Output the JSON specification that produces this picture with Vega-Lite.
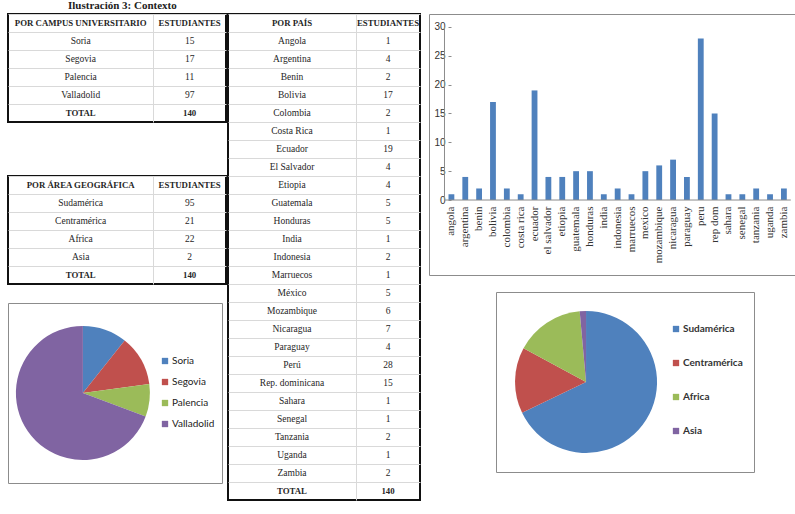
{
  "$schema": "https://vega.github.io/schema/vega-lite/v6.json",
  "background": "white",
  "padding": {"left": 7, "top": 0, "right": 0, "bottom": 0},
  "title": {"text": "Ilustración 3: Contexto", "anchor": "start", "dx": 61, "font": "Liberation Serif", "fontSize": 11, "fontWeight": "bold", "color": "#222", "offset": 2},
  "datasets": {
    "campus": [
      {"fila": "cabecera", "nombre": "POR CAMPUS UNIVERSITARIO", "estudiantes": "ESTUDIANTES"},
      {"fila": "dato", "nombre": "Soria", "estudiantes": 15},
      {"fila": "dato", "nombre": "Segovia", "estudiantes": 17},
      {"fila": "dato", "nombre": "Palencia", "estudiantes": 11},
      {"fila": "dato", "nombre": "Valladolid", "estudiantes": 97},
      {"fila": "total", "nombre": "TOTAL", "estudiantes": 140}
    ],
    "area": [
      {"fila": "cabecera", "nombre": "POR ÁREA GEOGRÁFICA", "estudiantes": "ESTUDIANTES"},
      {"fila": "dato", "nombre": "Sudamérica", "estudiantes": 95},
      {"fila": "dato", "nombre": "Centramérica", "estudiantes": 21},
      {"fila": "dato", "nombre": "Africa", "estudiantes": 22},
      {"fila": "dato", "nombre": "Asia", "estudiantes": 2},
      {"fila": "total", "nombre": "TOTAL", "estudiantes": 140}
    ],
    "pais": [
      {"fila": "cabecera", "nombre": "POR PAÍS", "estudiantes": "ESTUDIANTES"},
      {"fila": "dato", "nombre": "Angola", "etiqueta": "angola", "estudiantes": 1},
      {"fila": "dato", "nombre": "Argentina", "etiqueta": "argentina", "estudiantes": 4},
      {"fila": "dato", "nombre": "Benin", "etiqueta": "benin", "estudiantes": 2},
      {"fila": "dato", "nombre": "Bolivia", "etiqueta": "bolivia", "estudiantes": 17},
      {"fila": "dato", "nombre": "Colombia", "etiqueta": "colombia", "estudiantes": 2},
      {"fila": "dato", "nombre": "Costa Rica", "etiqueta": "costa rica", "estudiantes": 1},
      {"fila": "dato", "nombre": "Ecuador", "etiqueta": "ecuador", "estudiantes": 19},
      {"fila": "dato", "nombre": "El Salvador", "etiqueta": "el salvador", "estudiantes": 4},
      {"fila": "dato", "nombre": "Etiopia", "etiqueta": "etiopia", "estudiantes": 4},
      {"fila": "dato", "nombre": "Guatemala", "etiqueta": "guatemala", "estudiantes": 5},
      {"fila": "dato", "nombre": "Honduras", "etiqueta": "honduras", "estudiantes": 5},
      {"fila": "dato", "nombre": "India", "etiqueta": "india", "estudiantes": 1},
      {"fila": "dato", "nombre": "Indonesia", "etiqueta": "indonesia", "estudiantes": 2},
      {"fila": "dato", "nombre": "Marruecos", "etiqueta": "marruecos", "estudiantes": 1},
      {"fila": "dato", "nombre": "México", "etiqueta": "mexico", "estudiantes": 5},
      {"fila": "dato", "nombre": "Mozambique", "etiqueta": "mozambique", "estudiantes": 6},
      {"fila": "dato", "nombre": "Nicaragua", "etiqueta": "nicaragua", "estudiantes": 7},
      {"fila": "dato", "nombre": "Paraguay", "etiqueta": "paraguay", "estudiantes": 4},
      {"fila": "dato", "nombre": "Perú", "etiqueta": "peru", "estudiantes": 28},
      {"fila": "dato", "nombre": "Rep. dominicana", "etiqueta": "rep dom", "estudiantes": 15},
      {"fila": "dato", "nombre": "Sahara", "etiqueta": "sahara", "estudiantes": 1},
      {"fila": "dato", "nombre": "Senegal", "etiqueta": "senegal", "estudiantes": 1},
      {"fila": "dato", "nombre": "Tanzania", "etiqueta": "tanzania", "estudiantes": 2},
      {"fila": "dato", "nombre": "Uganda", "etiqueta": "uganda", "estudiantes": 1},
      {"fila": "dato", "nombre": "Zambia", "etiqueta": "zambia", "estudiantes": 2},
      {"fila": "total", "nombre": "TOTAL", "estudiantes": 140}
    ]
  },
  "spacing": 7,
  "resolve": {"scale": {"color": "independent"}, "legend": {"color": "independent"}},
  "hconcat": [
    {
      "spacing": 0,
      "resolve": {"scale": {"color": "independent"}, "legend": {"color": "independent"}},
      "hconcat": [
        {
          "spacing": 17,
          "resolve": {"scale": {"color": "independent"}, "legend": {"color": "independent"}},
          "vconcat": [
            {
              "spacing": 52,
              "vconcat": [
                {
                  "width": 218,
                  "height": 108,
                  "data": {"name": "campus"},
                  "transform": [{"window": [{"op": "row_number", "as": "n"}]}],
                  "view": {"stroke": "#111111", "strokeWidth": 2},
                  "encoding": {
                    "y": {"field": "n", "type": "ordinal", "scale": {"type": "band", "paddingInner": 0, "paddingOuter": 0}, "axis": {"grid": true, "bandPosition": 0, "gridColor": "#d9d9d9", "labels": false, "ticks": false, "domain": false, "title": null}}
                  },
                  "layer": [
                    {"transform": [{"filter": "datum.fila == 'dato'"}], "mark": {"type": "text"},
                     "encoding": {"x": {"datum": 1, "type": "quantitative", "scale": {"domain": [0, 3], "nice": false}, "axis": {"values": [2], "grid": true, "gridColor": "#d9d9d9", "labels": false, "ticks": false, "domain": false, "title": null}}, "text": {"field": "nombre"}}},
                    {"transform": [{"filter": "datum.fila == 'dato'"}], "mark": {"type": "text"},
                     "encoding": {"x": {"datum": 2.5, "type": "quantitative"}, "text": {"field": "estudiantes"}}},
                    {"transform": [{"filter": "datum.fila != 'dato'"}], "mark": {"type": "text", "fontWeight": "bold", "fontSize": 8.8},
                     "encoding": {"x": {"datum": 1, "type": "quantitative"}, "text": {"field": "nombre"}}},
                    {"transform": [{"filter": "datum.fila != 'dato'"}], "mark": {"type": "text", "fontWeight": "bold", "fontSize": 8.8},
                     "encoding": {"x": {"datum": 2.5, "type": "quantitative"}, "text": {"field": "estudiantes"}}}
                  ]
                },
                {
                  "width": 218,
                  "height": 108,
                  "data": {"name": "area"},
                  "transform": [{"window": [{"op": "row_number", "as": "n"}]}],
                  "view": {"stroke": "#111111", "strokeWidth": 2},
                  "encoding": {
                    "y": {"field": "n", "type": "ordinal", "scale": {"type": "band", "paddingInner": 0, "paddingOuter": 0}, "axis": {"grid": true, "bandPosition": 0, "gridColor": "#d9d9d9", "labels": false, "ticks": false, "domain": false, "title": null}}
                  },
                  "layer": [
                    {"transform": [{"filter": "datum.fila == 'dato'"}], "mark": {"type": "text"},
                     "encoding": {"x": {"datum": 1, "type": "quantitative", "scale": {"domain": [0, 3], "nice": false}, "axis": {"values": [2], "grid": true, "gridColor": "#d9d9d9", "labels": false, "ticks": false, "domain": false, "title": null}}, "text": {"field": "nombre"}}},
                    {"transform": [{"filter": "datum.fila == 'dato'"}], "mark": {"type": "text"},
                     "encoding": {"x": {"datum": 2.5, "type": "quantitative"}, "text": {"field": "estudiantes"}}},
                    {"transform": [{"filter": "datum.fila != 'dato'"}], "mark": {"type": "text", "fontWeight": "bold", "fontSize": 8.8},
                     "encoding": {"x": {"datum": 1, "type": "quantitative"}, "text": {"field": "nombre"}}},
                    {"transform": [{"filter": "datum.fila != 'dato'"}], "mark": {"type": "text", "fontWeight": "bold", "fontSize": 8.8},
                     "encoding": {"x": {"datum": 2.5, "type": "quantitative"}, "text": {"field": "estudiantes"}}}
                  ]
                }
              ]
            },
            {
              "width": 214,
              "height": 180,
              "data": {"name": "campus"},
              "transform": [{"filter": "datum.fila == 'dato'"}, {"window": [{"op": "row_number", "as": "n"}]}],
              "view": {"stroke": "#8c8c8c", "strokeWidth": 1},
              "mark": {"type": "arc", "outerRadius": 67},
              "encoding": {
                "x": {"datum": 0.35, "type": "quantitative", "scale": {"domain": [0, 1]}, "axis": null},
                "theta": {"field": "estudiantes", "type": "quantitative", "stack": true},
                "order": {"field": "n", "type": "quantitative"},
                "color": {"field": "nombre", "type": "nominal", "sort": null,
                  "scale": {"domain": ["Soria", "Segovia", "Palencia", "Valladolid"], "range": ["#4F81BD", "#C0504D", "#9BBB59", "#8064A2"]},
                  "legend": {"orient": "none", "legendX": 152, "legendY": 53, "title": null, "symbolType": "square", "symbolSize": 40, "symbolStrokeWidth": 0, "labelFont": "Lato", "labelFontSize": 10, "labelColor": "#222", "rowPadding": 11, "padding": 0, "labelOffset": 2}}
              }
            }
          ]
        },
        {
          "width": 192,
          "height": 486,
          "data": {"name": "pais"},
          "transform": [{"window": [{"op": "row_number", "as": "n"}]}],
          "view": {"stroke": "#111111", "strokeWidth": 2},
          "encoding": {
            "y": {"field": "n", "type": "ordinal", "scale": {"type": "band", "paddingInner": 0, "paddingOuter": 0}, "axis": {"grid": true, "bandPosition": 0, "gridColor": "#d9d9d9", "labels": false, "ticks": false, "domain": false, "title": null}}
          },
          "layer": [
            {"transform": [{"filter": "datum.fila == 'dato'"}], "mark": {"type": "text"},
             "encoding": {"x": {"datum": 1, "type": "quantitative", "scale": {"domain": [0, 3], "nice": false}, "axis": {"values": [2], "grid": true, "gridColor": "#d9d9d9", "labels": false, "ticks": false, "domain": false, "title": null}}, "text": {"field": "nombre"}}},
            {"transform": [{"filter": "datum.fila == 'dato'"}], "mark": {"type": "text"},
             "encoding": {"x": {"datum": 2.5, "type": "quantitative"}, "text": {"field": "estudiantes"}}},
            {"transform": [{"filter": "datum.fila != 'dato'"}], "mark": {"type": "text", "fontWeight": "bold", "fontSize": 8.8},
             "encoding": {"x": {"datum": 1, "type": "quantitative"}, "text": {"field": "nombre"}}},
            {"transform": [{"filter": "datum.fila != 'dato'"}], "mark": {"type": "text", "fontWeight": "bold", "fontSize": 8.8},
             "encoding": {"x": {"datum": 2.5, "type": "quantitative"}, "text": {"field": "estudiantes"}}}
          ]
        }
      ]
    },
    {
      "spacing": 15,
      "resolve": {"scale": {"color": "independent"}, "legend": {"color": "independent"}},
      "vconcat": [
        {
          "width": 366,
          "height": 261,
          "view": {"stroke": "#8c8c8c", "strokeWidth": 1},
          "layer": [
            {
              "data": {"name": "pais"},
              "transform": [{"filter": "datum.fila == 'dato'"}],
              "mark": {"type": "bar", "color": "#4F81BD"},
              "encoding": {
                "x": {"field": "etiqueta", "type": "nominal",
                  "scale": {"paddingInner": 0.58, "paddingOuter": 1.365, "align": 0.704},
                  "axis": {"orient": "bottom", "offset": -75, "labelAngle": -90, "labelAlign": "right", "labelBaseline": "middle", "domain": false, "ticks": false, "labelFont": "Liberation Serif", "labelFontSize": 11, "labelColor": "#333333", "labelPadding": 6, "title": null}},
                "y": {"field": "estudiantes", "type": "quantitative",
                  "scale": {"domain": [-13, 32.25], "nice": false, "zero": false},
                  "axis": {"values": [0, 5, 10, 15, 20, 25, 30], "offset": -22, "grid": false, "domain": false, "tickSize": 3, "tickColor": "#8c8c8c", "labelFont": "Liberation Sans", "labelFontSize": 10, "labelColor": "#333333", "labelPadding": 3, "title": null}}
              }
            },
            {
              "data": {"values": [{}]},
              "mark": {"type": "rule", "color": "#8c8c8c", "strokeWidth": 1},
              "encoding": {
                "x": {"datum": "angola", "bandPosition": -0.69},
                "y": {"datum": 0, "type": "quantitative"},
                "y2": {"datum": 30}
              }
            },
            {
              "data": {"values": [{}]},
              "mark": {"type": "rule", "color": "#8c8c8c", "strokeWidth": 1},
              "encoding": {
                "x": {"datum": "angola", "bandPosition": -0.69},
                "x2": {"datum": "zambia", "bandPosition": 1.69},
                "y": {"datum": 0, "type": "quantitative"}
              }
            }
          ]
        },
        {
          "spacing": 0,
          "resolve": {"scale": {"color": "independent"}, "legend": {"color": "independent"}},
          "hconcat": [
            {"width": 66, "height": 180, "data": {"values": []}, "mark": "text", "encoding": {}},
            {
              "width": 258,
              "height": 180,
              "data": {"name": "area"},
              "transform": [{"filter": "datum.fila == 'dato'"}, {"window": [{"op": "row_number", "as": "n"}]}],
              "view": {"stroke": "#8c8c8c", "strokeWidth": 1},
              "mark": {"type": "arc", "outerRadius": 71},
              "encoding": {
                "x": {"datum": 0.349, "type": "quantitative", "scale": {"domain": [0, 1]}, "axis": null},
                "theta": {"field": "estudiantes", "type": "quantitative", "stack": true},
                "order": {"field": "n", "type": "quantitative"},
                "color": {"field": "nombre", "type": "nominal", "sort": null,
                  "scale": {"domain": ["Sudamérica", "Centramérica", "Africa", "Asia"], "range": ["#4F81BD", "#C0504D", "#9BBB59", "#8064A2"]},
                  "legend": {"orient": "none", "legendX": 175, "legendY": 32, "title": null, "symbolType": "square", "symbolSize": 40, "symbolStrokeWidth": 0, "labelFont": "Lato", "labelFontSize": 10, "labelFontWeight": "bold", "labelColor": "#333", "rowPadding": 24, "padding": 0, "labelOffset": 2}}
              }
            }
          ]
        }
      ]
    }
  ],
  "config": {
    "view": {"stroke": null},
    "text": {"font": "Liberation Serif", "fontSize": 9.5, "color": "#262626"}
  }
}
